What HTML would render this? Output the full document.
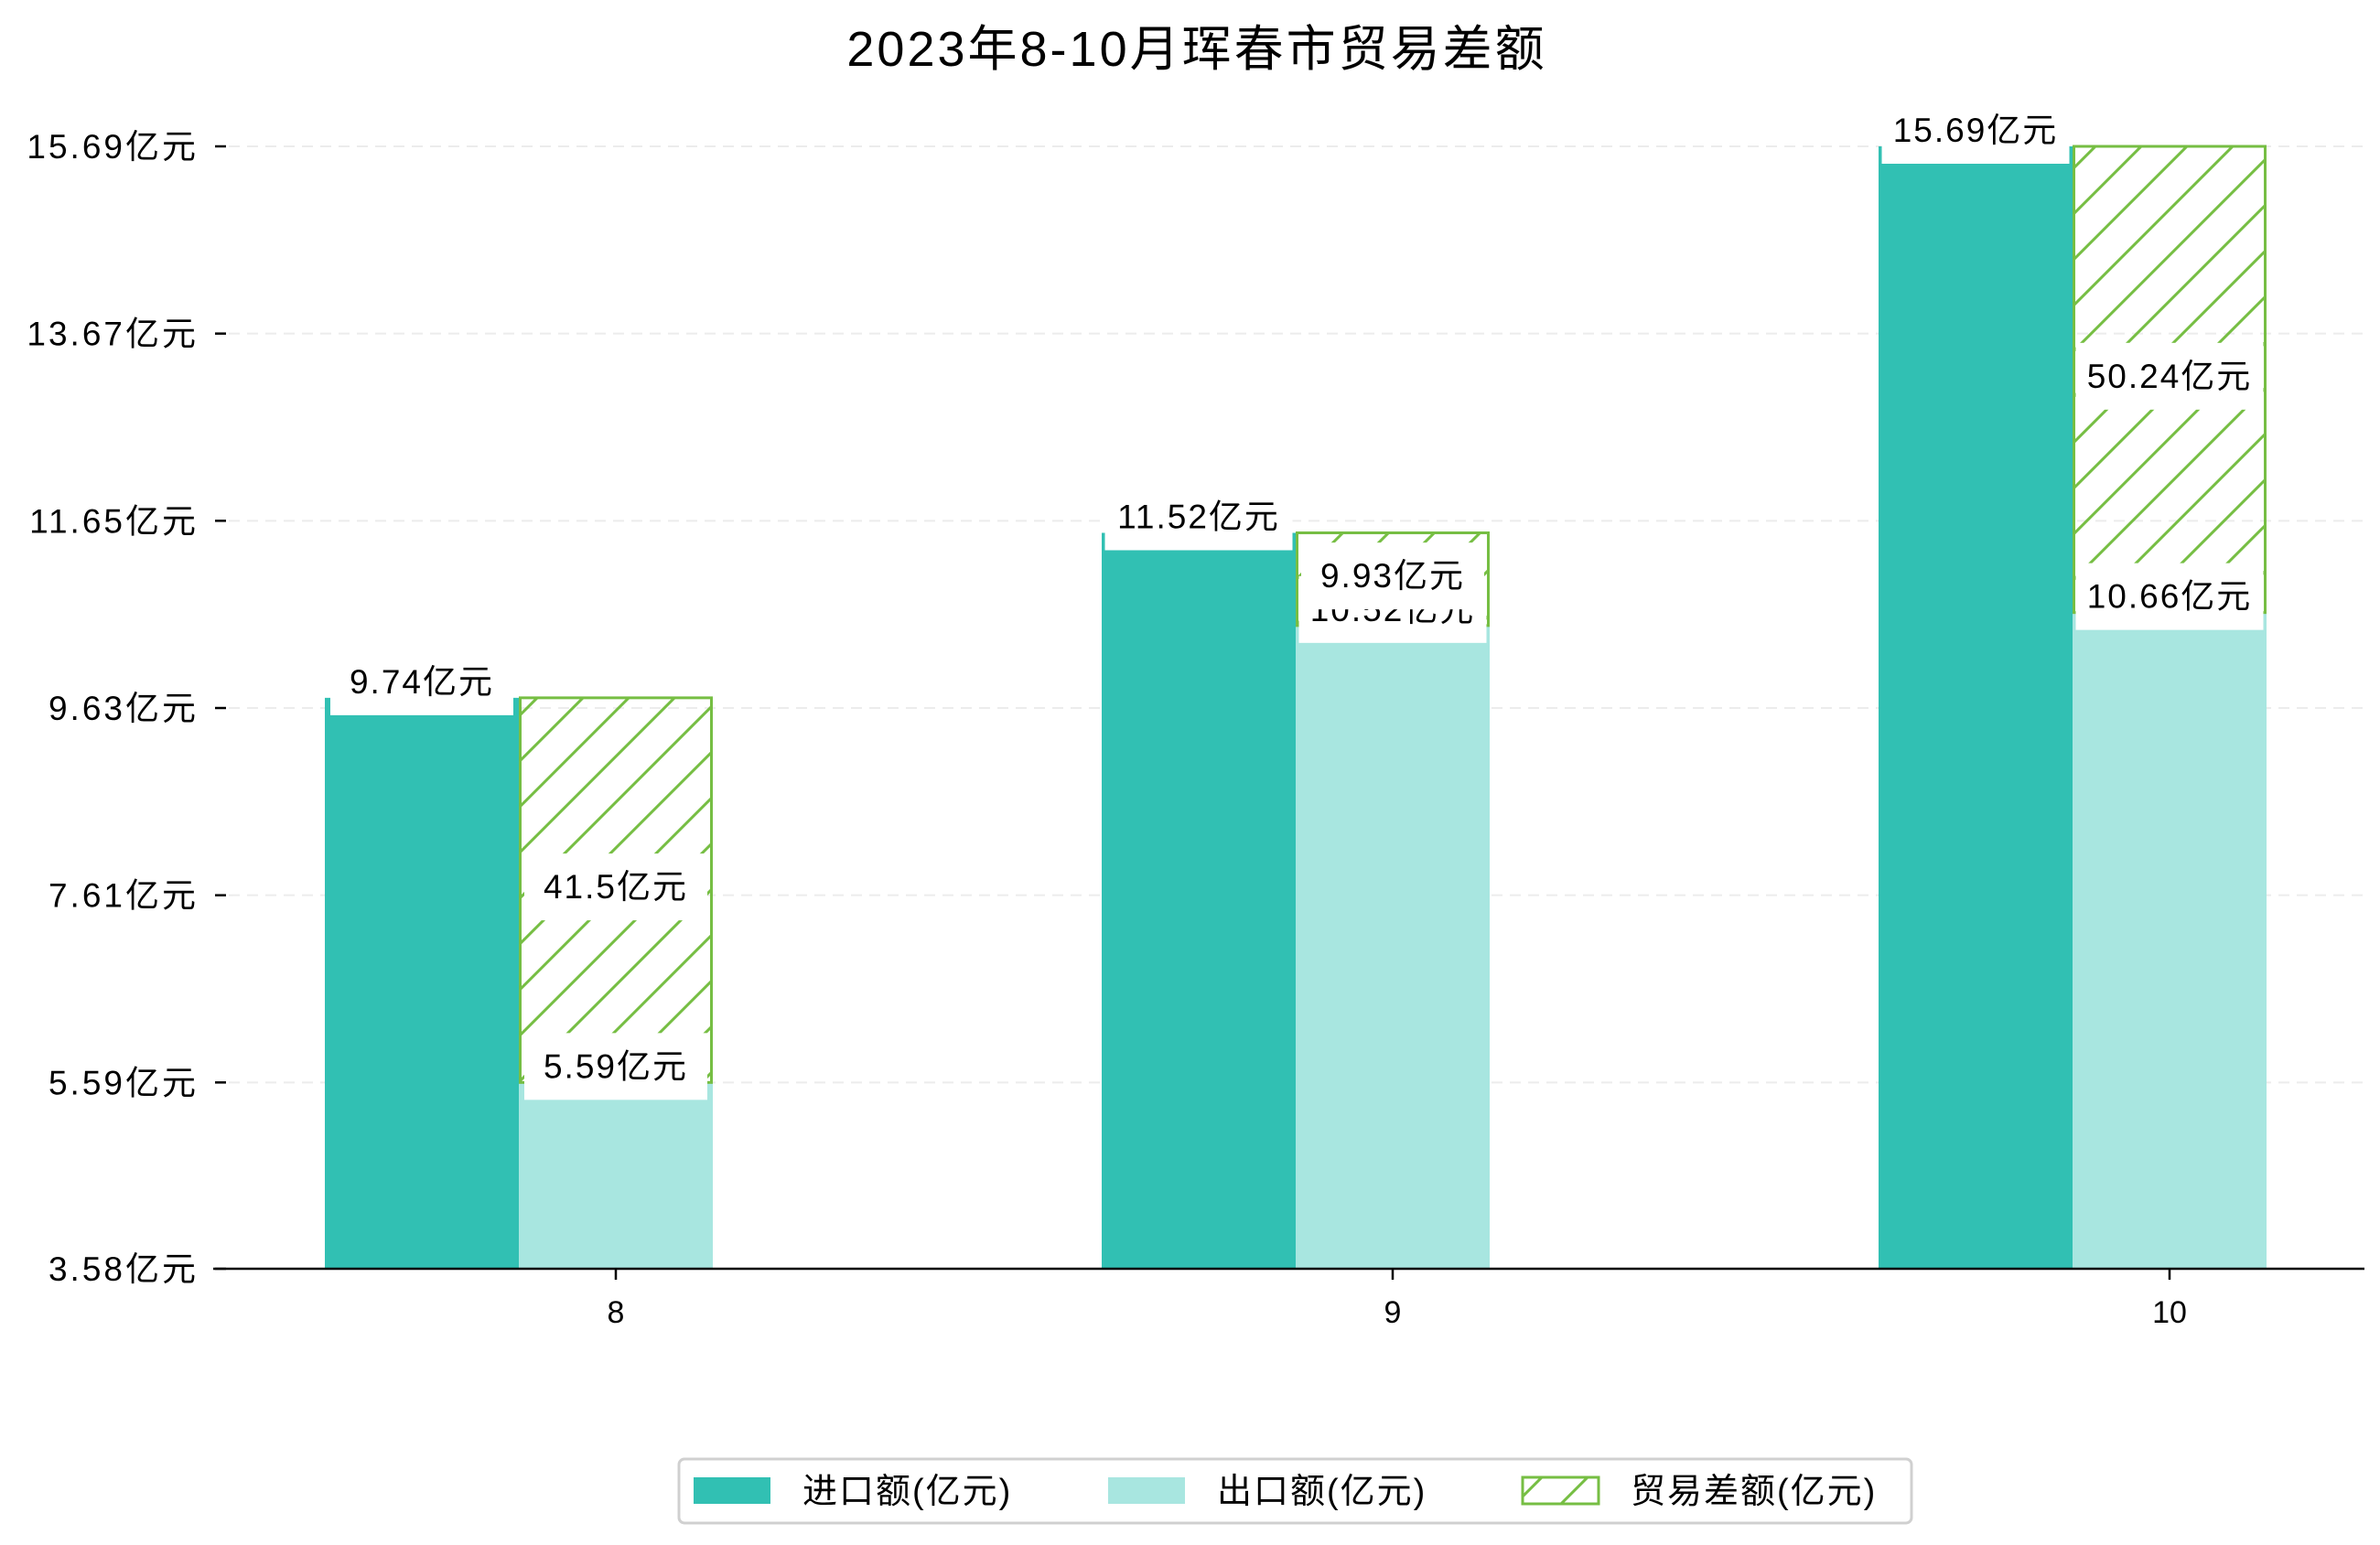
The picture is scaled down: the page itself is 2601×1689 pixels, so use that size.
<!DOCTYPE html>
<html><head><meta charset="utf-8"><style>
html,body{margin:0;padding:0;background:#fff;}
svg{display:block;font-family:"Liberation Sans","Noto Sans CJK SC",sans-serif;}
</style></head><body>
<svg id="chart" width="2601" height="1689" viewBox="0 0 2601 1689" xmlns="http://www.w3.org/2000/svg">
<defs>
<pattern id="hatch" patternUnits="userSpaceOnUse" width="50" height="50">
<path d="M-5,55 L55,-5 M-30,30 L30,-30 M20,80 L80,20" stroke="#76be43" stroke-width="3"/>
</pattern>
</defs>
<text x="1308" y="72" font-size="54" letter-spacing="3" text-anchor="middle" fill="#000">2023年8-10月珲春市贸易差额</text>
<g id="grid"></g><g id="bars"></g><g id="labels"></g><g id="axes"></g>
<g>
<rect x="742" y="1595" width="1347" height="70" rx="6" fill="#fff" stroke="#d0d0d0" stroke-width="3"/>
<rect x="758" y="1615" width="84" height="29" fill="#31c0b3"/>
<text x="877" y="1643" font-size="38" letter-spacing="2">进口额(亿元)</text>
<rect x="1211" y="1615" width="84" height="29" fill="#a8e6e0"/>
<text x="1330" y="1643" font-size="38" letter-spacing="2">出口额(亿元)</text>
<rect x="1664" y="1615" width="83" height="29" fill="url(#hatch)" stroke="#76be43" stroke-width="3"/>
<text x="1782" y="1643" font-size="38" letter-spacing="2">贸易差额(亿元)</text>
</g>
</svg>
<script>
const categories = ["8", "9", "10"];
const importValues = [9.74, 11.52, 15.69];
const exportValues = [5.59, 10.52, 10.66];
const importLabels = ["9.74亿元", "11.52亿元", "15.69亿元"];
const exportLabels = ["5.59亿元", "10.52亿元", "10.66亿元"];
const balanceLabels = ["41.5亿元", "9.93亿元", "50.24亿元"];
const yTicks = [3.58, 5.59, 7.61, 9.63, 11.65, 13.67, 15.69];
const yTickLabels = ["3.58亿元", "5.59亿元", "7.61亿元", "9.63亿元", "11.65亿元", "13.67亿元", "15.69亿元"];

const NS = "http://www.w3.org/2000/svg";
const yMin = 3.58, yMax = 15.69, y0 = 1387, y1 = 160;
function yScale(v){ return y0 - (v - yMin) / (yMax - yMin) * (y0 - y1); }
const xStart = 673, xStep = 849, bw = 212;
function xScale(i){ return xStart + i * xStep; }
function mk(tag, attrs, parent){ const e = document.createElementNS(NS, tag); for (const k in attrs) e.setAttribute(k, attrs[k]); parent.appendChild(e); return e; }
const grid = document.getElementById('grid'), bars = document.getElementById('bars'), labels = document.getElementById('labels'), axes = document.getElementById('axes');

yTicks.forEach((v, i) => {
  const y = yScale(v);
  if (i > 0) {
    const g = mk('line', {x1: 250, x2: 2584, y1: y, y2: y, stroke: '#ececec', 'stroke-width': 2, 'stroke-dasharray': '12,8'}, grid);
    
    
  }
  const t = mk('line', {x1: 235, x2: 247, y1: y, y2: y, stroke: '#000', 'stroke-width': 2.5}, axes);
  
  
  const tx = mk('text', {x: 217, y: y + 13, 'font-size': 37, 'letter-spacing': 3, 'text-anchor': 'end'}, axes);
  tx.textContent = yTickLabels[i];
  
  
});

function label(parent, cx, cy, txt, name){
  const w = Math.max(bw - 12, txt.length * 25 + 30);
  const r = mk('rect', {x: cx - w/2, y: cy - 36, width: w, height: 73, fill: '#fff'}, parent);
  
  
  const t = mk('text', {x: cx, y: cy + 13, 'font-size': 37, 'letter-spacing': 2, 'text-anchor': 'middle'}, parent);
  t.textContent = txt;
  
  
}

categories.forEach((c, i) => {
  const cx = xScale(i);
  const yi = yScale(importValues[i]), ye = yScale(exportValues[i]);
  const a = mk('rect', {x: cx - 1.5*bw, y: yi, width: bw, height: y0 - yi, fill: '#31c0b3'}, bars);
  
  
  const b = mk('rect', {x: cx - 0.5*bw, y: ye, width: bw, height: y0 - ye, fill: '#a8e6e0'}, bars);
  
  
  const h = mk('rect', {x: cx - 0.5*bw + 1.5, y: yi, width: bw - 3, height: ye - yi, fill: 'url(#hatch)', stroke: '#76be43', 'stroke-width': 3}, bars);
  
  
  const tk = mk('line', {x1: cx, x2: cx, y1: y0, y2: y0 + 12, stroke: '#000', 'stroke-width': 2.5}, axes);
  
  
  const xl = mk('text', {x: cx, y: y0 + 59, 'font-size': 34, 'text-anchor': 'middle'}, axes);
  xl.textContent = c;
  
  
});
categories.forEach((c, i) => { label(labels, xScale(i) - bw, yScale(importValues[i]) - 18, importLabels[i], 'import-value-label'); });
categories.forEach((c, i) => { label(labels, xScale(i), yScale(exportValues[i]) - 18, exportLabels[i], 'export-value-label'); });
categories.forEach((c, i) => { label(labels, xScale(i), (yScale(exportValues[i]) + yScale(importValues[i])) / 2 - 4, balanceLabels[i], 'balance-value-label'); });

const ax = mk('line', {x1: 233, x2: 2584, y1: y0, y2: y0, stroke: '#000', 'stroke-width': 2.5}, axes);


</script>
</body></html>
